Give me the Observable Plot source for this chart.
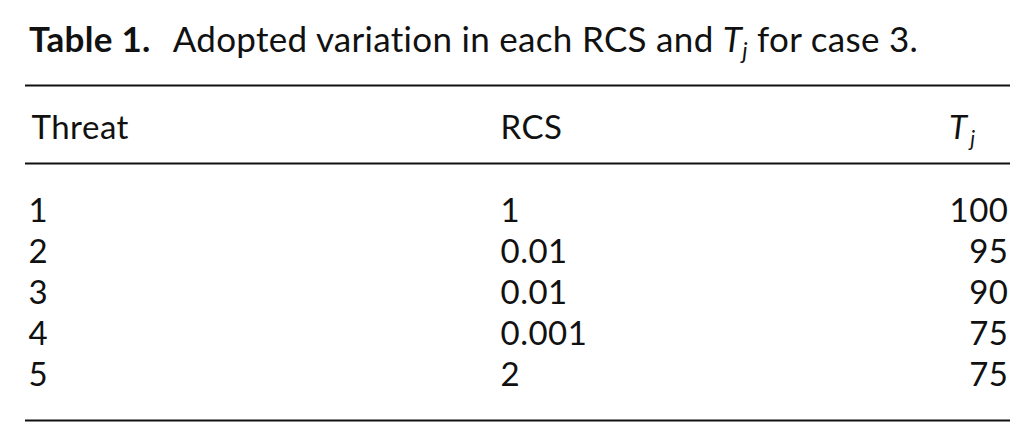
<!DOCTYPE html>
<html>
<head>
<meta charset="utf-8">
<script src="https://cdn.jsdelivr.net/npm/d3@7"></script>
<script src="https://cdn.jsdelivr.net/npm/@observablehq/plot@0.6"></script>
<style>
  html, body { margin: 0; padding: 0; background: #fff; }
  body { width: 1034px; height: 447px; overflow: hidden; font-family: Lato, "Open Sans", sans-serif; color: #111; }
  #title { height: 70px; box-sizing: border-box; padding-left: 29px; padding-top: 21px; font-size: 35px; line-height: 35px; letter-spacing: 0.3px; white-space: nowrap; }
  #title b { font-weight: 700; margin-right: 22px; }
  #title sub { font-size: 23px; vertical-align: -7px; line-height: 0; }
  svg { display: block; }
</style>
</head>
<body>
<div id="title"><b>Table 1.</b>Adopted variation in each RCS and <i>T<sub>j</sub></i> for case 3.</div>
<div id="chart"></div>
<script>
const columns = ["Threat", "RCS", "Tj"];
const threats = ["1", "2", "3", "4", "5"];
const rcs = ["1", "0.01", "0.01", "0.001", "2"];
const tj = [100, 95, 90, 75, 75];

const rows = threats.map((t, i) => ({threat: t, rcs: rcs[i], tj: tj[i]}));

const fontSize = 33;
const chart = Plot.plot({
  width: 1034,
  height: 377,
  marginLeft: 27,
  marginRight: 26,
  marginTop: 151,
  marginBottom: 62,
  x: {type: "point", domain: columns, padding: 0, axis: null},
  y: {type: "point", domain: threats, padding: 0, axis: null},
  style: {fontFamily: "Lato, 'Open Sans', sans-serif", color: "#111", background: "#fff", overflow: "visible", letterSpacing: "0.5px"},
  marks: [
    // rules
    Plot.ruleY([threats[0]], {dy: -136, stroke: "#111", strokeWidth: 2, insetLeft: -2, insetRight: -2}),
    Plot.ruleY([threats[0]], {dy: -58, stroke: "#111", strokeWidth: 2, insetLeft: -2, insetRight: -2}),
    Plot.ruleY([threats[threats.length - 1]], {dy: 35, stroke: "#111", strokeWidth: 2, insetLeft: -2, insetRight: -2}),
    // header
    Plot.text([columns[0]], {x: d => d, frameAnchor: "top", dy: -83, dx: 3, lineAnchor: "bottom", textAnchor: "start", text: d => d, fontSize, fill: "#111"}),
    Plot.text([columns[1]], {x: d => d, frameAnchor: "top", dy: -83, dx: -18, lineAnchor: "bottom", textAnchor: "start", text: d => d, fontSize, fill: "#111"}),
    Plot.text([columns[2]], {x: d => d, frameAnchor: "top", dy: -83, dx: -41, lineAnchor: "bottom", textAnchor: "end", text: d => d.slice(0, 1), fontSize, fontStyle: "italic", fill: "#111"}),
    Plot.text([columns[2]], {x: d => d, frameAnchor: "top", dy: -76, dx: -33, lineAnchor: "bottom", textAnchor: "end", text: d => d.slice(1), fontSize: 21, fontStyle: "italic", fill: "#111"}),
    // body
    Plot.text(rows, {x: () => columns[0], y: "threat", text: "threat", lineAnchor: "bottom", textAnchor: "start", fontSize, fill: "#111"}),
    Plot.text(rows, {x: () => columns[1], y: "threat", text: "rcs", dx: -18, lineAnchor: "bottom", textAnchor: "start", fontSize, fill: "#111"}),
    Plot.text(rows, {x: () => columns[2], y: "threat", text: d => String(d.tj), lineAnchor: "bottom", textAnchor: "end", fontSize, fill: "#111"})
  ]
});
document.getElementById("chart").appendChild(chart);
</script>
</body>
</html>
